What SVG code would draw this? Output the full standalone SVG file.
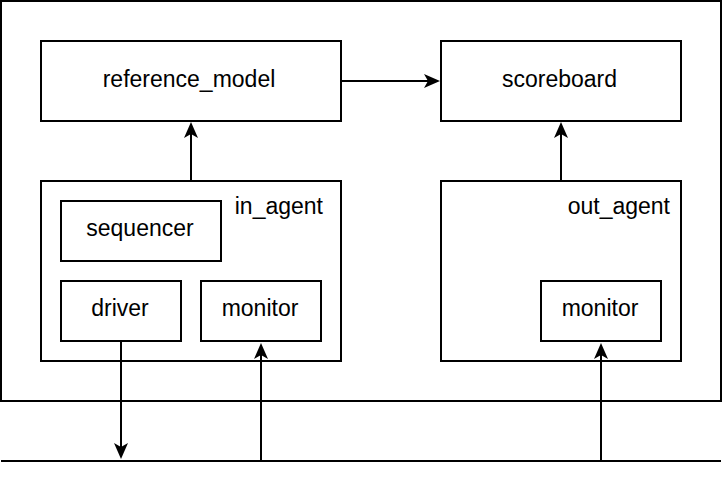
<svg xmlns="http://www.w3.org/2000/svg" width="724" height="478" viewBox="0 0 724 478">
<style>
.b{fill:#fff;stroke:#000;stroke-width:2}
.t{font-family:"Liberation Sans",Arial,Helvetica,sans-serif;font-size:23px;fill:#000}
.c{text-anchor:middle}
.e{text-anchor:end}
.l{fill:none;stroke:#000;stroke-width:2}
</style>
<defs>
<marker id="ah" viewBox="0 0 16 14" refX="4" refY="7" markerWidth="16" markerHeight="14" markerUnits="userSpaceOnUse" orient="auto">
<path d="M0,0 L16,7 L0,14 L4,7 Z" fill="#000"/>
</marker>
</defs>
<rect x="0" y="0" width="724" height="478" fill="#fff"/>
<g id="env"><rect class="b" x="1" y="1" width="720" height="400"/></g>
<g id="reference_model"><rect class="b" x="41" y="41" width="300" height="80"/><text class="t c" x="189" y="86.5">reference_model</text></g>
<g id="scoreboard"><rect class="b" x="441" y="41" width="240" height="80"/><text class="t c" x="559.5" y="86.5">scoreboard</text></g>
<g id="in_agent"><rect class="b" x="41" y="181" width="300" height="180"/><text class="t e" x="323" y="214">in_agent</text></g>
<g id="sequencer"><rect class="b" x="61" y="201" width="160" height="60"/><text class="t c" x="140" y="236">sequencer</text></g>
<g id="driver"><rect class="b" x="61" y="281" width="120" height="60"/><text class="t c" x="120" y="315.5">driver</text></g>
<g id="in_monitor"><rect class="b" x="201" y="281" width="120" height="60"/><text class="t c" x="260" y="315.5">monitor</text></g>
<g id="out_agent"><rect class="b" x="441" y="181" width="240" height="180"/><text class="t e" x="670" y="214">out_agent</text></g>
<g id="out_monitor"><rect class="b" x="541" y="281" width="120" height="60"/><text class="t c" x="600" y="315.5">monitor</text></g>
<g id="bus"><line class="l" x1="1" y1="461" x2="721" y2="461"/></g>
<g id="connectors">
<line class="l" x1="341" y1="81" x2="428" y2="81" marker-end="url(#ah)"/>
<line class="l" x1="191" y1="181" x2="191" y2="134" marker-end="url(#ah)"/>
<line class="l" x1="561" y1="181" x2="561" y2="134" marker-end="url(#ah)"/>
<line class="l" x1="121" y1="341" x2="121" y2="447" marker-end="url(#ah)"/>
<line class="l" x1="261" y1="461" x2="261" y2="355" marker-end="url(#ah)"/>
<line class="l" x1="601" y1="461" x2="601" y2="355" marker-end="url(#ah)"/>
</g>
</svg>
